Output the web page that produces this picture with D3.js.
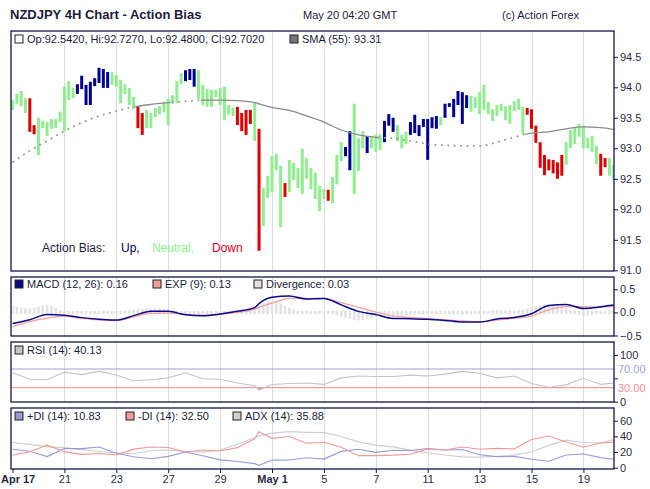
<!DOCTYPE html>
<html><head><meta charset="utf-8">
<script src="https://cdn.jsdelivr.net/npm/d3@7"></script>
<style>
html,body{margin:0;padding:0;background:#fff;}
svg{display:block;font-family:"Liberation Sans",Arial,Helvetica,sans-serif;}
</style></head><body>
<svg id="c" width="650" height="489"></svg>
<script>
// ---------- DATA ----------
const tickIdx = [0,12,24,36,48,60,72,84,96,108,120,132];
const tickLabels = ["Apr 17","21","23","27","29","May 1","5","7","11","13","15","19"];

const highs = [93.79,93.89,93.94,93.82,93.82,93.38,93.50,93.45,93.43,93.48,
93.48,93.60,94.01,94.10,93.99,94.05,94.19,94.04,94.09,94.15,
94.32,94.30,94.25,94.25,94.20,94.12,94.05,93.99,93.84,93.69,
93.58,93.63,93.58,93.66,93.69,93.76,93.81,93.87,94.10,94.23,
94.28,94.30,94.30,94.28,94.04,93.97,93.96,93.96,93.99,94.01,
93.71,93.66,93.68,93.58,93.63,93.63,93.76,93.32,92.35,92.55,
92.87,92.91,92.71,92.43,92.81,92.76,92.68,92.99,92.84,92.68,
92.60,92.38,92.33,92.32,92.53,92.89,93.10,93.02,93.28,93.73,
93.17,93.28,93.20,93.20,93.22,93.23,93.45,93.56,93.50,93.38,
93.22,93.27,93.43,93.55,93.38,93.48,93.48,93.51,93.53,93.51,
93.73,93.74,93.81,93.94,93.92,93.87,93.86,93.84,93.92,94.04,
93.76,93.64,93.71,93.73,93.69,93.71,93.77,93.81,93.68,93.66,
93.64,93.37,93.10,92.89,92.82,92.81,92.77,92.89,93.10,93.30,
93.35,93.40,93.37,93.17,93.20,93.04,92.91,92.84,92.84,92.727];

const lows = [93.63,93.73,93.69,93.58,93.27,93.23,92.89,93.33,93.20,93.32,
93.33,93.43,93.28,93.79,93.82,93.89,93.97,93.71,93.71,94.02,
94.07,93.99,93.99,94.04,94.01,93.74,93.89,93.71,93.64,93.33,
93.22,93.33,93.33,93.51,93.56,93.59,93.38,93.73,93.74,94.05,
94.10,94.12,94.01,93.81,93.71,93.68,93.68,93.84,93.71,93.46,
93.55,93.53,93.38,93.28,93.22,93.40,93.12,91.32,91.73,92.19,
92.28,92.64,91.71,92.20,92.28,92.48,92.35,92.25,92.50,92.33,
92.17,91.97,92.17,92.14,92.10,92.41,92.79,92.87,92.64,92.25,
92.63,93.00,92.92,93.00,92.94,92.97,93.10,93.37,93.27,93.12,
93.00,93.07,93.22,93.25,93.20,93.35,92.81,93.33,93.32,93.38,
93.50,93.68,93.51,93.71,93.40,93.66,93.60,93.66,93.56,93.63,
93.56,93.45,93.53,93.61,93.46,93.40,93.61,93.63,93.23,93.55,
93.32,93.09,92.68,92.56,92.64,92.59,92.50,92.55,92.73,93.00,
93.07,93.19,93.00,93.00,92.94,92.74,92.55,92.69,92.55,92.48];

// U = up, N = neutral, D = down
const bias = ("NNNNDDNNNN"+"NNNNNUUUUU"+"UUUNNNNNND"+"DNNNNNNNNN"+"UUUNNNNNNN"+
              "NNDDDDNDNN"+"NNNDNNNNNN"+"NNNDNNNUUN"+"NNUNNNUUUN"+"NNUUUUUUUN"+
              "UUUUUUNNNN"+"NNNNNNNNND"+"DDDDDDDDNN"+"NNNNNNDDNN").split("");

const sampleIdx = [0,4,8,12,16,20,24,28,32,36,40,44,48,52,56,57,60,64,68,72,76,80,84,88,92,96,100,104,108,112,116,120,124,128,132,136,139];
const sma = [92.77,92.96,93.12,93.28,93.42,93.53,93.61,93.68,93.72,93.75,93.77,93.79,93.79,93.78,93.75,93.73,93.67,93.62,93.53,93.43,93.30,93.22,93.18,93.16,93.12,93.07,93.05,93.04,93.04,93.10,93.18,93.25,93.27,93.32,93.35,93.34,93.31];
const priceAboveSma = [[0,28],[37,43],[85,118]];
const macd = [-0.24,-0.157,-0.043,-0.063,-0.113,-0.146,-0.167,-0.07,0.024,0.024,-0.052,-0.074,-0.037,0.024,0.104,0.19,0.326,0.354,0.289,0.302,0.163,0.022,-0.046,-0.13,-0.135,-0.148,-0.174,-0.207,-0.207,-0.143,-0.109,-0.028,0.148,0.172,0.087,0.12,0.16];
const expSignal = [-0.313,-0.2,-0.124,-0.08,-0.128,-0.161,-0.176,-0.096,-0.022,-0.015,-0.043,-0.059,-0.043,-0.002,0.072,0.11,0.2,0.304,0.304,0.304,0.211,0.109,0.009,-0.078,-0.109,-0.135,-0.157,-0.185,-0.204,-0.167,-0.128,-0.08,0.061,0.126,0.126,0.115,0.13];
const rsi = [62,48,47,63,58,65,57,45,47,51,62,49,48,40,34,25,37,39,40,37,51,55,54,54,57,55,59,65,61,51,55,39,31,36,50,37,40.13];
const plusDI = [23.5,21,14.2,24.5,24.4,26.5,18.4,14,11.4,14.5,20,15.3,10,7.9,5.2,3,9.7,9.8,12.7,11,20.8,23.5,19.6,22.2,22,24.5,22.6,23.3,16.6,14.1,14.4,10.7,8.2,16.2,17.4,12.9,10.83];
const minusDI = [16,20.5,28.8,20.5,17,18.2,16.3,23.7,26.5,25.7,20,22.6,21.3,25.6,37,46,37.5,39.9,31.2,32.4,26,15.4,15.4,16,17.1,24,22.6,26.5,23.5,24.7,24,36,40.4,32.8,26.2,31.5,32.5];
const adx = [32.4,29.8,26.9,25.6,23,20.7,18.8,17.8,21.7,22.6,20.7,19.8,22.5,29.9,38.5,40.3,44.2,46,45.2,44.7,39.8,33,28.5,26.5,22.5,19,16.2,13.9,13.4,14.4,16,20.4,28.5,35.2,32.2,31.8,35.88];

const mainTicks = [91,91.5,92,92.5,93,93.5,94,94.5];
const macdTicks = [-0.5,0,0.5];
const rsiTicks = [0,50,100];
const adxTicks = [0,20,40,60];

// ---------- DRAW ----------
const svg = d3.select("#c");
const L = 11, R = 614;
const ink = "#1c1c3a";
const frameCol = "#14144a";
const panels = {
  main:{top:31,bot:271}, macd:{top:277,bot:336}, rsi:{top:342,bot:402}, adx:{top:408,bot:469}
};

const x = d3.scaleLinear().domain([0,139]).range([12.5,613.7]);
const yMain = d3.scaleLinear().domain([91,94.5]).range([270.3,56.8]);
const yMacd = d3.scaleLinear().domain([-0.5,0.5]).range([335.5,289.3]);
const yHist = d3.scaleLinear().domain([-0.25,0.25]).range([335.5,289.3]);
const yRsi = d3.scaleLinear().domain([0,100]).range([401.7,355]);
const yAdx = d3.scaleLinear().domain([0,60]).range([467.7,420.7]);

const defs = svg.append("defs");
Object.entries(panels).forEach(([k,p])=>{
  defs.append("clipPath").attr("id","clip-"+k).append("rect")
    .attr("x",L).attr("y",p.top).attr("width",R-L).attr("height",p.bot-p.top);
});
const step = x(1)-x(0);
const pat = defs.append("pattern").attr("id","stripes").attr("patternUnits","userSpaceOnUse")
  .attr("x",x(0)-1.3).attr("y",0).attr("width",step).attr("height",20);
pat.append("rect").attr("width",2.6).attr("height",20).attr("fill","#e2e2e2");

svg.append("rect").attr("width",650).attr("height",489).attr("fill","#fff");

// header
svg.append("text").attr("x",10).attr("y",19).attr("font-size",13).attr("font-weight","bold")
  .attr("fill",ink).text("NZDJPY 4H Chart - Action Bias");
svg.append("text").attr("x",303).attr("y",19).attr("font-size",11).attr("fill",ink).text("May 20 04:20 GMT");
svg.append("text").attr("x",502).attr("y",19).attr("font-size",11).attr("fill",ink).text("(c) Action Forex");

// gridlines
Object.values(panels).forEach(p=>{
  svg.append("g").selectAll("line").data(tickIdx.slice(1)).join("line")
    .attr("x1",d=>Math.round(x(d))+0.5).attr("x2",d=>Math.round(x(d))+0.5)
    .attr("y1",p.top).attr("y2",p.bot).attr("stroke","#dcdcdc").attr("stroke-width",1);
});

// ---- main panel ----
const gMain = svg.append("g").attr("clip-path","url(#clip-main)");
const biasColor = {U:"#000092",N:"#90ee90",D:"#e00000"};
gMain.selectAll("rect.bar").data(d3.range(highs.length)).join("rect").attr("class","bar")
  .attr("x",i=>x(i)-1.5).attr("width",3)
  .attr("y",i=>yMain(highs[i]))
  .attr("height",i=>Math.max(1,yMain(lows[i])-yMain(highs[i])))
  .attr("fill",i=>biasColor[bias[i]]);

const smaPts = sampleIdx.map((i,k)=>[i,sma[k]]);
const smaLine = d3.line().x(d=>x(d[0])).y(d=>yMain(d[1])).curve(d3.curveMonotoneX);
const aboveClip = defs.append("clipPath").attr("id","sma-above");
priceAboveSma.forEach(r=>aboveClip.append("rect").attr("x",x(r[0])-2.2).attr("y",0)
  .attr("width",x(r[1])-x(r[0])+4.4).attr("height",489));
const belowRanges = [];
let prev = 0;
priceAboveSma.forEach(r=>{ if(r[0]>prev) belowRanges.push([prev,r[0]]); prev=r[1]; });
if(prev<139) belowRanges.push([prev,139]);
const belowClip = defs.append("clipPath").attr("id","sma-below");
belowRanges.forEach(r=>belowClip.append("rect").attr("x",x(r[0])+2.2).attr("y",0)
  .attr("width",x(r[1])-x(r[0])-4.4+ (r[1]===139?10:0)).attr("height",489));
gMain.append("g").attr("clip-path","url(#sma-below)").append("path").datum(smaPts)
  .attr("d",smaLine).attr("fill","none").attr("stroke","#8a8a8a").attr("stroke-width",1.3);
gMain.append("g").attr("clip-path","url(#sma-above)").append("path").datum(smaPts)
  .attr("d",smaLine).attr("fill","none").attr("stroke","#999").attr("stroke-width",1.8)
  .attr("stroke-dasharray","1.8,4.6");

// action bias key
const kb = svg.append("g").attr("font-size",12);
kb.append("text").attr("x",42).attr("y",252).attr("fill",ink).text("Action Bias:");
kb.append("text").attr("x",121).attr("y",252).attr("fill","#00006a").text("Up,");
kb.append("text").attr("x",152).attr("y",252).attr("fill","#90ee90").text("Neutral,");
kb.append("text").attr("x",212).attr("y",252).attr("fill","#e00020").text("Down");

// ---- MACD panel ----
const gM = svg.append("g").attr("clip-path","url(#clip-macd)");
const div = macd.map((v,k)=>v-expSignal[k]);
const z = yHist(0);
gM.append("rect").attr("x",L).attr("y",z-1.5).attr("width",R-L).attr("height",3).attr("fill","url(#stripes)");
gM.append("path").datum(div)
  .attr("d",d3.area().x((d,k)=>x(sampleIdx[k])).y0(z).y1(d=>yHist(d)).curve(d3.curveMonotoneX))
  .attr("fill","url(#stripes)");
gM.append("path").datum(expSignal)
  .attr("d",d3.line().x((d,k)=>x(sampleIdx[k])).y(d=>yMacd(d)).curve(d3.curveMonotoneX))
  .attr("fill","none").attr("stroke","#f0a0a0").attr("stroke-width",1.2);
gM.append("path").datum(macd)
  .attr("d",d3.line().x((d,k)=>x(sampleIdx[k])).y(d=>yMacd(d)).curve(d3.curveMonotoneX))
  .attr("fill","none").attr("stroke","#0a0a8c").attr("stroke-width",1.5);

// ---- RSI panel ----
const gR = svg.append("g").attr("clip-path","url(#clip-rsi)");
gR.append("line").attr("x1",L).attr("x2",R).attr("y1",yRsi(70)).attr("y2",yRsi(70)).attr("stroke","#9f9fd6").attr("stroke-width",1);
gR.append("line").attr("x1",L).attr("x2",R).attr("y1",yRsi(30)).attr("y2",yRsi(30)).attr("stroke","#f08a8a").attr("stroke-width",1);
defs.append("clipPath").attr("id","rsi-low").append("rect").attr("x",L).attr("y",yRsi(30)).attr("width",R-L).attr("height",40);
gR.append("path").datum(rsi).attr("clip-path","url(#rsi-low)")
  .attr("d",d3.area().x((d,k)=>x(sampleIdx[k])).y0(yRsi(30)).y1(d=>yRsi(d)))
  .attr("fill","#f08a8a");
gR.append("path").datum(rsi)
  .attr("d",d3.line().x((d,k)=>x(sampleIdx[k])).y(d=>yRsi(d)))
  .attr("fill","none").attr("stroke","#c4c4c4").attr("stroke-width",1.1);

// ---- ADX panel ----
const gA = svg.append("g").attr("clip-path","url(#clip-adx)");
const adxLine = d3.line().x((d,k)=>x(sampleIdx[k])).y(d=>yAdx(d));
gA.append("path").datum(adx).attr("d",adxLine).attr("fill","none").attr("stroke","#cfcfcf").attr("stroke-width",1.2);
gA.append("path").datum(plusDI).attr("d",adxLine).attr("fill","none").attr("stroke","#9a9ad8").attr("stroke-width",1.1);
gA.append("path").datum(minusDI).attr("d",adxLine).attr("fill","none").attr("stroke","#f09a9a").attr("stroke-width",1.1);

// ---- axes ----
function rightAxis(scale, ticks, fmt){
  const g = svg.append("g").attr("transform",`translate(${R},0)`)
    .call(d3.axisRight(scale).tickValues(ticks).tickSize(4).tickPadding(2).tickFormat(fmt));
  g.select(".domain").remove();
  g.selectAll("line").attr("stroke",frameCol);
  g.selectAll("text").attr("font-size",11).attr("fill","#2a2a44").attr("font-family","Liberation Sans, Arial, sans-serif");
  return g;
}
rightAxis(yMain, mainTicks, d3.format(".1f"));
rightAxis(yMacd, macdTicks, d3.format(".1f"));
rightAxis(yRsi, rsiTicks, d=> d===50?"":String(d));
rightAxis(yAdx, adxTicks, d=>String(d));
svg.append("text").attr("x",R+4).attr("y",yRsi(70)+4).attr("font-size",11).attr("fill","#a0a0d8").text("70.00");
svg.append("text").attr("x",R+4).attr("y",yRsi(30)+4).attr("font-size",11).attr("fill","#f09090").text("30.00");

const xa = svg.append("g").attr("transform",`translate(0,${panels.adx.bot})`)
  .call(d3.axisBottom(x).tickValues(tickIdx).tickSize(4).tickPadding(2).tickFormat((d,k)=>tickLabels[k]));
xa.select(".domain").remove();
xa.selectAll("line").attr("stroke",frameCol);
xa.selectAll("text").attr("font-size",11).attr("fill","#2a2a44")
  .attr("font-family","Liberation Sans, Arial, sans-serif")
  .attr("font-weight",(d,k)=>/[A-Za-z]/.test(tickLabels[k])?"bold":"normal")
  .each(function(d,k){ if(k===0) d3.select(this).attr("text-anchor","start").attr("dx",-x(d)+0.5); });

// ---- frames ----
Object.values(panels).forEach(p=>{
  svg.append("rect").attr("x",L).attr("y",p.top).attr("width",R-L).attr("height",p.bot-p.top)
    .attr("fill","none").attr("stroke",frameCol).attr("stroke-width",1.3);
});

// ---- legends ----
function legend(items, yBase){
  const g = svg.append("g").attr("font-size",11);
  items.forEach(it=>{
    g.append("rect").attr("x",it.x).attr("y",yBase-8).attr("width",8).attr("height",8)
      .attr("fill",it.fill).attr("stroke","#222").attr("stroke-width",1);
    g.append("text").attr("x",it.x+12).attr("y",yBase).attr("fill",ink).text(it.text);
  });
}
legend([{x:15,fill:"#fff",text:"Op:92.5420, Hi:92.7270, Lo:92.4800, Cl:92.7020"},
        {x:290,fill:"#777",text:"SMA (55): "+sma[sma.length-1].toFixed(2)}], 43);
legend([{x:15,fill:"#0a0a8c",text:"MACD (12, 26): "+macd[macd.length-1].toFixed(2)},
        {x:153,fill:"#f0a0a0",text:"EXP (9): "+expSignal[expSignal.length-1].toFixed(2)},
        {x:254,fill:"#e0e0e0",text:"Divergence: "+div[div.length-1].toFixed(2)}], 288);
legend([{x:15,fill:"#c4c4c4",text:"RSI (14): "+rsi[rsi.length-1].toFixed(2)}], 354);
legend([{x:15,fill:"#9a9ad8",text:"+DI (14): "+plusDI[plusDI.length-1].toFixed(2)},
        {x:126,fill:"#f09a9a",text:"-DI (14): "+minusDI[minusDI.length-1].toFixed(2)},
        {x:233,fill:"#d0d0d0",text:"ADX (14): "+adx[adx.length-1].toFixed(2)}], 420);
</script>
</body></html>
